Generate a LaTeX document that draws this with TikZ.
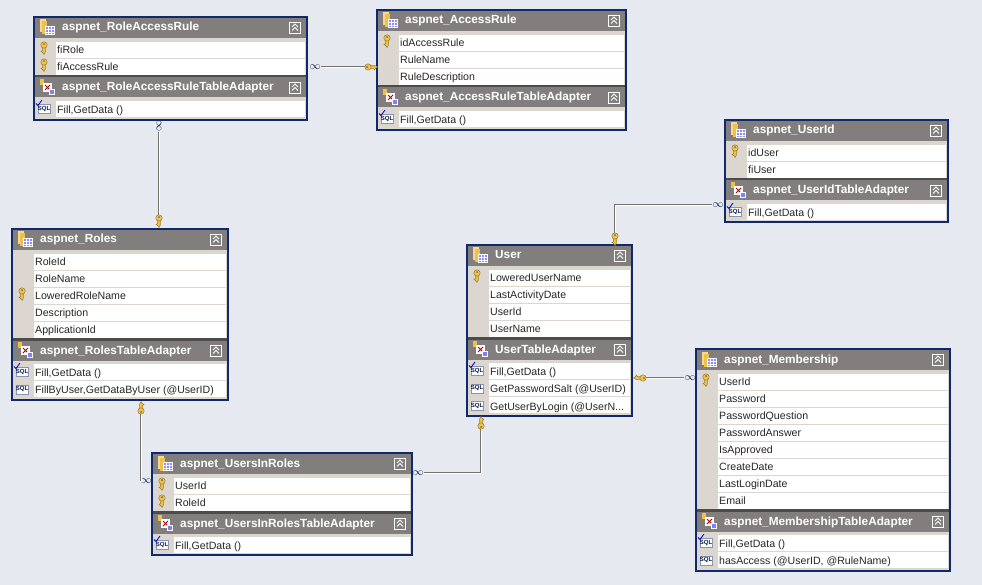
\documentclass[tikz,border=0pt]{standalone}
\usepackage{fontspec}
\setmainfont{Liberation Sans}
\definecolor{sheet}{HTML}{E6E9F0}
\definecolor{navy}{HTML}{10296B}
\definecolor{headgray}{HTML}{827E7E}
\definecolor{gutter}{HTML}{DBD6D0}
\definecolor{gold}{HTML}{EFC04A}
\definecolor{linkgray}{HTML}{74746C}
\tikzset{
  tablebox/.style={draw=navy,line width=2.2pt,inner sep=0pt},
  headtext/.style={anchor=base west,inner sep=0pt,text=white,font=\fontsize{11.8}{13}\selectfont\bfseries},
  rowtext/.style={anchor=base west,inner sep=0pt,text=black!85,font=\fontsize{10.6}{12}\selectfont},
  infend/.style={inner sep=0pt,text=navy!70!black,font=\fontsize{11}{11}\selectfont},
  link/.style={draw=linkgray,line width=1pt,double=white,double distance=.8pt},
  elbowhv/.style={to path={-| (\tikztotarget)}},
  elbowvh/.style={to path={|- (\tikztotarget)}},
  keyicon/.pic={
    \draw[gold!65!black,line width=.5pt,fill=gold] (0,-1.4) -- (7,-1.4) -- (9.5,0) -- (7.5,1.4) -- (6.5,3) -- (5.5,1.4) -- (0,1.4) -- cycle;
    \draw[gold!65!black,line width=.5pt,fill=gold] (0,0) circle (3.2);
    \fill[black!60] (-.9,0) circle (.9);
  },
  tableicon/.pic={
    \fill[gold!60!white] (-8,-8) rectangle (-2,5);
    \fill[gold] (-6,-6) rectangle (-1,7);
    \draw[white,fill=blue!45!white,line width=.4pt] (-3,-1) rectangle (6,7);
    \draw[white,line width=.4pt] (-3,2) -- (6,2) (-3,4.5) -- (6,4.5) (0,-1) -- (0,7) (3,-1) -- (3,7);
  },
  adaptericon/.pic={
    \fill[gold] (-8,-8) rectangle (-4,-2);
    \fill[white] (-5,-4) rectangle (4,5);
    \draw[red!70!black,line width=1pt] (-3,-2) -- (2,3) (2,-2) -- (-3,3);
    \draw[white,fill=blue!50!white,line width=.4pt] (1,2) rectangle (6,7);
  },
  sqlicon/.pic={
    \draw[navy!50!white,fill=white,line width=.4pt] (-6,-4.5) rectangle (6,4.5);
    \node[inner sep=0pt,text=navy!70!black,font=\fontsize{6}{6}\selectfont\bfseries] {SQL};
  },
  checkicon/.pic={
    \draw[blue!70!black,line width=.8pt] (-8,-5.5) -- (-6,-3.5) -- (-2,-9);
  },
  collapseicon/.pic={
    \draw[white,line width=.7pt] (-5.5,-5.5) rectangle (5.5,5.5);
    \draw[white,line width=.8pt] (-3,-.5) -- (0,-3.5) -- (3,-.5) (-3,3) -- (0,0) -- (3,3);
  }
}
% name, left, top, right, bottom, title, columns, adapter, queries
\newcommand{\dbtable}[9]{
  \fill[gutter] (#2,#3) rectangle (#4,#5);
  \fill[headgray] (#2,#3) rectangle (#4,#3+21);
  \pic at (#2+14,#3+10.5) {tableicon};
  \node[headtext] (#1Title) at (#2+28,#3+14) {#6};
  \pic at (#4-12,#3+10.5) {collapseicon};
  \foreach \txt/\haskey [count=\n] in {#7} {
    \pgfmathsetmacro\rowy{#3+33+17*(\n-1)}
    \fill[white] (#2+22,\rowy-8) rectangle (#4-2,\rowy+7.8);
    \node[rowtext] (#1Col\n) at (#2+23,\rowy+3.8) {\txt};
    \ifnum\haskey=1 \pic[rotate=-90] at (#2+10,\rowy-5) {keyicon}; \fi
    \xdef\colcount{\n}
  }
  \pgfmathsetmacro\adaptery{#3+33+17*(\colcount-1)+20}
  \fill[black!70] (#2,\adaptery-12) rectangle (#4,\adaptery-9.5);
  \fill[headgray] (#2,\adaptery-9.5) rectangle (#4,\adaptery+10.5);
  \pic at (#2+14,\adaptery) {adaptericon};
  \node[headtext] (#1Adapter) at (#2+28,\adaptery+4) {#8};
  \pic at (#4-12,\adaptery+.5) {collapseicon};
  \foreach \txt/\haschk [count=\n] in {#9} {
    \pgfmathsetmacro\rowy{\adaptery+22+17.4*(\n-1)}
    \fill[white] (#2+22,\rowy-8.4) rectangle (#4-2,\rowy+7.6);
    \pic at (#2+10,\rowy) {sqlicon};
    \ifnum\haschk=1 \pic at (#2+10,\rowy) {checkicon}; \fi
    \node[rowtext] (#1Query\n) at (#2+23,\rowy+4.3) {\txt};
  }
  \pgfmathsetmacro\tblw{#4-#2}
  \pgfmathsetmacro\tblh{#5-#3}
  \node[tablebox,minimum width=\tblw pt,minimum height=\tblh pt] (#1) at ({(#2+#4)/2},{(#3+#5)/2}) {};
}
\begin{document}
\begin{tikzpicture}[x=1pt,y=-1pt]

  \fill[sheet] (0,0) rectangle (982,585);

  \dbtable{RoleAccessRule}{34}{17}{307}{120}{aspnet\_RoleAccessRule}
    {fiRole/1,fiAccessRule/1}{aspnet\_RoleAccessRuleTableAdapter}{{Fill,GetData ()}/1}
  \dbtable{AccessRule}{377}{10}{626}{130}{aspnet\_AccessRule}
    {idAccessRule/1,RuleName/0,RuleDescription/0}{aspnet\_AccessRuleTableAdapter}{{Fill,GetData ()}/1}
  \dbtable{UserIdTable}{725}{120}{948}{222}{aspnet\_UserId}
    {idUser/1,fiUser/0}{aspnet\_UserIdTableAdapter}{{Fill,GetData ()}/1}
  \dbtable{Roles}{12}{229}{228}{400}{aspnet\_Roles}
    {RoleId/0,RoleName/0,LoweredRoleName/1,Description/0,ApplicationId/0}{aspnet\_RolesTableAdapter}
    {{Fill,GetData ()}/1,{FillByUser,GetDataByUser (@UserID)}/0}
  \dbtable{UserTable}{467}{245}{632}{416}{User}
    {LoweredUserName/1,LastActivityDate/0,UserId/0,UserName/0}{UserTableAdapter}
    {{Fill,GetData ()}/1,{GetPasswordSalt (@UserID)}/0,{GetUserByLogin (@UserN...}/0}
  \dbtable{UsersInRoles}{152}{453}{412}{555}{aspnet\_UsersInRoles}
    {UserId/1,RoleId/1}{aspnet\_UsersInRolesTableAdapter}{{Fill,GetData ()}/1}
  \dbtable{Membership}{696}{349}{950}{571}{aspnet\_Membership}
    {UserId/1,Password/0,PasswordQuestion/0,PasswordAnswer/0,IsApproved/0,CreateDate/0,LastLoginDate/0,Email/0}
    {aspnet\_MembershipTableAdapter}{{Fill,GetData ()}/1,{hasAccess (@UserID, @RuleName)}/0}

  \node[infend]          (raInf)   at (315,67)  {$\infty$};
  \node[infend,rotate=90] (rrInf)  at (159,126) {$\infty$};
  \node[infend]          (urInf)   at (146,481) {$\infty$};
  \node[infend]          (uuInf)   at (418,473) {$\infty$};
  \node[infend]          (umInf)   at (690,378) {$\infty$};
  \node[infend]          (uiInf)   at (718,205) {$\infty$};

  \coordinate (raKey) at (368,67);
  \coordinate (rrKey) at (159,218);
  \coordinate (urKey) at (141,411);
  \coordinate (uuKey) at (481,426);
  \coordinate (umKey) at (643,378);
  \coordinate (uiKey) at (615,236);

  \path (raInf) edge[link] (raKey)
        (rrInf) edge[link] (rrKey)
        (urKey) edge[link,elbowvh] (urInf)
        (uuInf) edge[link,elbowhv] (uuKey)
        (umKey) edge[link] (umInf)
        (uiInf) edge[link,elbowhv] (uiKey);

  \pic at (raKey) {keyicon};
  \pic[rotate=-90] at (rrKey) {keyicon};
  \pic[rotate=90] at (urKey) {keyicon};
  \pic[rotate=90] at (uuKey) {keyicon};
  \pic[rotate=180] at (umKey) {keyicon};
  \pic[rotate=-90] at (uiKey) {keyicon};
\end{tikzpicture}
\end{document}
